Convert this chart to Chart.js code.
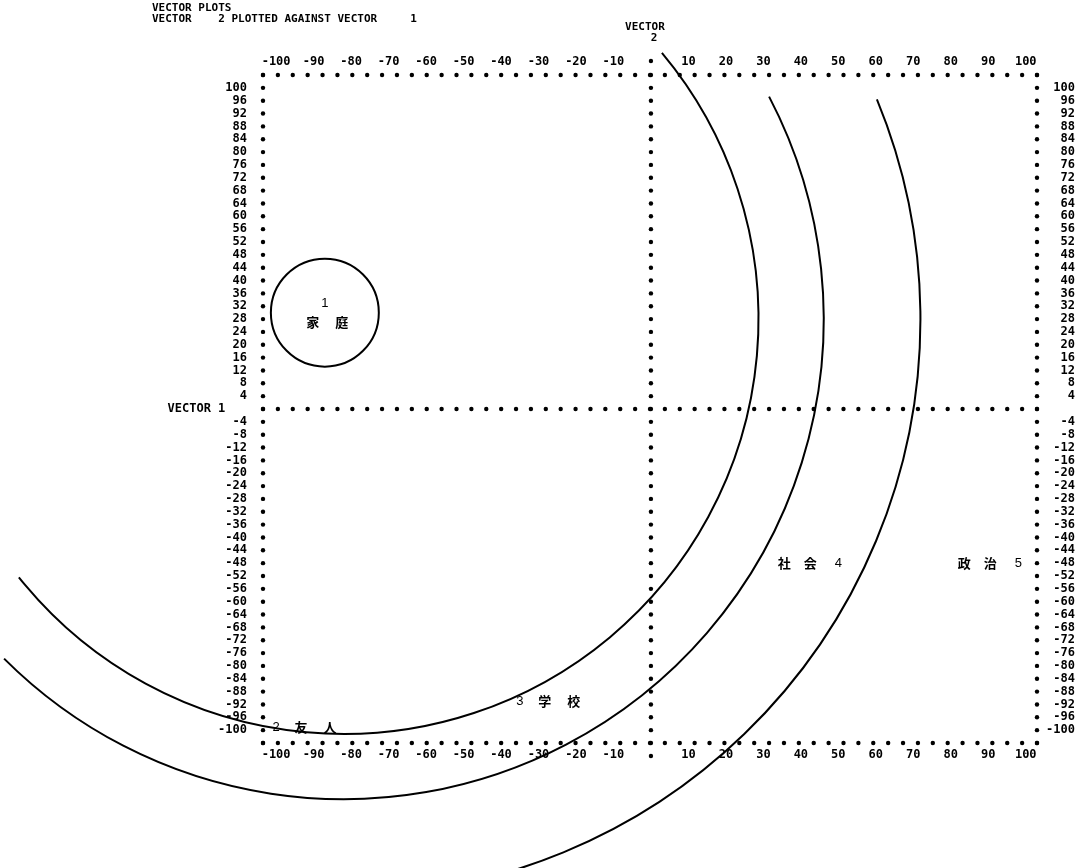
<!DOCTYPE html>
<html>
<head>
<meta charset="utf-8">
<title>Vector plots</title>
<script src="https://cdn.jsdelivr.net/npm/chart.js@4"></script>
<style>
  html, body { margin: 0; background: #fff; }
  #wrap { width: 1090px; height: 868px; }
</style>
</head>
<body>
<div id="wrap"><canvas id="plot"></canvas></div>
<script>
// axis ranges of the printout (vector 1 across, vector 2 up)
const xRange = [-103.5, 103];
const yRange = [-104, 104];
const xStep = 10;
const yStep = 4;

// the five plotted items
const itemNo = ['1', '2', '3', '4', '5'];
const itemName = ['家庭', '友人', '学校', '社会', '政治'];
const itemX = [-87, -100, -35, 50, 98];
const itemY = [30, -99, -91, -48, -48];

// small circle round item 1 (radius in vector-1 units)
const itemRing = 14.4;

// the three hand drawn arcs share one centre
const arcCenter = [-82, 28];
const arcRadius = [110.7, 128.1, 153.9];
const arcFrom = [-39.9, -27.6, -22.4];
const arcTo = [141.5, 135, 80];

const titleLines = ['VECTOR PLOTS', 'VECTOR    2 PLOTTED AGAINST VECTOR     1'];

const mono = { family: '"DejaVu Sans Mono", monospace', size: 12, weight: 'bold' };
const MONO = 'bold 11px "DejaVu Sans Mono", monospace';

// dotted frame, centre cross and header text
const frame = {
  id: 'frame',
  afterDraw(chart) {
    const { ctx, chartArea: a, scales: { x, y } } = chart;
    ctx.save();
    ctx.fillStyle = '#000';
    const dot = (px, py) => { ctx.beginPath(); ctx.arc(px, py, 2.2, 0, Math.PI * 2); ctx.fill(); };

    // columns: one dot per printer line
    [x.min, 0, x.max].forEach(v => {
      const px = x.getPixelForValue(v);
      y.ticks.forEach(t => dot(px, y.getPixelForValue(t.value)));
    });
    // rows: one dot every ~4 units
    const n = Math.round((x.max - x.min) / 4);
    [y.min, 0, y.max].forEach(v => {
      const py = y.getPixelForValue(v);
      for (let k = 0; k <= n; k++) dot(x.getPixelForValue(x.min + k * (x.max - x.min) / n), py);
    });
    const cx = x.getPixelForValue(0);
    dot(cx, a.top - 14);
    dot(cx, a.bottom + 13);

    ctx.font = MONO;
    ctx.textBaseline = 'middle';
    ctx.textAlign = 'left';
    ctx.fillText(titleLines[0], 152, 8);
    ctx.fillText(titleLines[1], 152, 19);
    ctx.textAlign = 'center';
    ctx.fillText('VECTOR', cx - 6, 27);
    ctx.fillText('2', cx + 3, 38);
    ctx.restore();
  }
};

// hand drawn circles and the item labels
const overlay = {
  id: 'overlay',
  afterDraw(chart) {
    const { ctx, scales: { x, y } } = chart;
    const pts = chart.getDatasetMeta(0).data;
    const unit = Math.abs(x.getPixelForValue(1) - x.getPixelForValue(0));
    const rad = d => d * Math.PI / 180;
    ctx.save();
    ctx.strokeStyle = '#000';
    ctx.lineWidth = 2;

    ctx.beginPath();
    ctx.arc(pts[0].x, pts[0].y, itemRing * unit, 0, Math.PI * 2);
    ctx.stroke();

    const ax = x.getPixelForValue(arcCenter[0]);
    const ay = y.getPixelForValue(arcCenter[1]);
    arcRadius.forEach((r, i) => {
      ctx.beginPath();
      ctx.arc(ax, ay, r * unit, rad(arcFrom[i]), rad(arcTo[i]));
      ctx.stroke();
    });

    ctx.fillStyle = '#000';
    ctx.textBaseline = 'middle';
    ctx.textAlign = 'center';
    const cjk = 'bold 13px "Noto Sans CJK JP"';
    const num = '13px "Liberation Sans", sans-serif';
    const spaced = (text, sx, sy, pitch) => [...text].forEach((c, k) => ctx.fillText(c, sx + k * pitch, sy));

    pts.forEach((p, i) => {
      const name = itemName[i];
      ctx.font = num;
      if (i === 0) {
        ctx.fillText(itemNo[i], p.x, p.y - 9);
        ctx.font = cjk;
        spaced(name, p.x - 12, p.y + 9, 29);
      } else if (itemX[i] < 0) {
        ctx.fillText(itemNo[i], p.x, p.y);
        ctx.font = cjk;
        spaced(name, p.x + 25, p.y, 29);
      } else {
        ctx.fillText(itemNo[i], p.x, p.y);
        ctx.font = cjk;
        spaced(name, p.x - 28 - 26, p.y, 26);
      }
    });
    ctx.restore();
  }
};

const xTicks = (pad) => ({
  stepSize: xStep, includeBounds: false, autoSkip: false, maxRotation: 0,
  padding: pad, font: mono, color: '#000',
  callback: v => v === 0 ? '' : v
});

const noGrid = { display: false, drawTicks: false };

new Chart(document.getElementById('plot'), {
  type: 'scatter',
  data: {
    datasets: [{
      label: 'items',
      data: itemX.map((v, i) => ({ x: v, y: itemY[i] })),
      pointRadius: 0,
      xAxisID: 'x',
      yAxisID: 'y'
    }]
  },
  options: {
    responsive: true,
    maintainAspectRatio: false,
    animation: false,
    layout: { padding: { right: 15 } },
    plugins: { legend: { display: false }, tooltip: { enabled: false } },
    scales: {
      x: {
        type: 'linear', position: 'bottom', min: xRange[0], max: xRange[1],
        ticks: xTicks(5),
        grid: noGrid, border: { display: false },
        afterFit: s => { s.height = 125; }
      },
      xTop: {
        type: 'linear', axis: 'x', position: 'top', min: xRange[0], max: xRange[1],
        ticks: xTicks(6),
        grid: noGrid, border: { display: false },
        afterFit: s => { s.height = 75; }
      },
      y: {
        type: 'linear', position: 'left', min: yRange[0], max: yRange[1],
        ticks: {
          stepSize: yStep, autoSkip: false, padding: 16, font: mono, color: '#000',
          callback: v => v === 0 ? 'VECTOR 1   ' : (Math.abs(v) > 100 ? '' : v)
        },
        grid: noGrid, border: { display: false },
        afterFit: s => { s.width = 263; }
      },
      yRight: {
        type: 'linear', axis: 'y', position: 'right', min: yRange[0], max: yRange[1],
        ticks: {
          stepSize: yStep, autoSkip: false, padding: 0, crossAlign: 'far', font: mono, color: '#000',
          callback: v => (v === 0 || Math.abs(v) > 100) ? '' : v
        },
        grid: noGrid, border: { display: false },
        afterFit: s => { s.width = 38; }
      }
    }
  },
  plugins: [frame, overlay]
});
</script>
</body>
</html>
